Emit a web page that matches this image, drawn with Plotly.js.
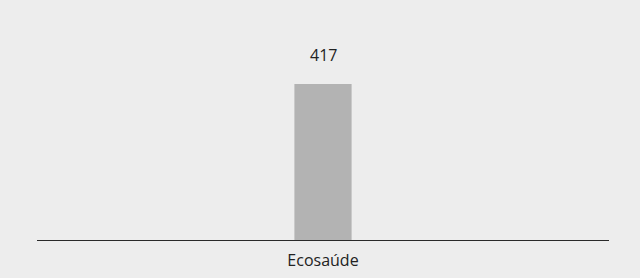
<!DOCTYPE html>
<html>
<head>
<meta charset="utf-8">
<script src="https://cdn.plot.ly/plotly-3.0.1.min.js"></script>
<style>html,body{margin:0;padding:0;background:#ededed;}</style>
</head>
<body>
<div id="chart" style="width:640px;height:278px;"></div>
<script>
const categories = ["Ecosaúde"];
const values = [417];
const labels = ["417"];

const trace = {
  type: "bar",
  x: categories,
  y: values,
  width: 0.1,
  marker: {color: "#b3b3b3"},
  hoverinfo: "none"
};

const layout = {
  width: 640,
  height: 278,
  paper_bgcolor: "#ededed",
  plot_bgcolor: "#ededed",
  margin: {l: 37, r: 31, t: 20, b: 38},
  font: {family: "Open Sans, Noto Sans, sans-serif", size: 16, color: "#222"},
  showlegend: false,
  xaxis: {
    showline: true, linecolor: "#2a2a2a", linewidth: 1,
    showgrid: false, zeroline: false, ticks: "",
    ticklabelstandoff: 6,
    tickfont: {size: 16, color: "#222"}
  },
  yaxis: {
    range: [0, 588], visible: false, showgrid: false, zeroline: false
  },
  annotations: categories.map((c, i) => ({
    x: c, y: values[i], text: labels[i], showarrow: false,
    yanchor: "middle", yshift: 29, font: {size: 16, color: "#222"}
  }))
};

Plotly.newPlot("chart", [trace], layout, {displayModeBar: false, staticPlot: true});
</script>
</body>
</html>
